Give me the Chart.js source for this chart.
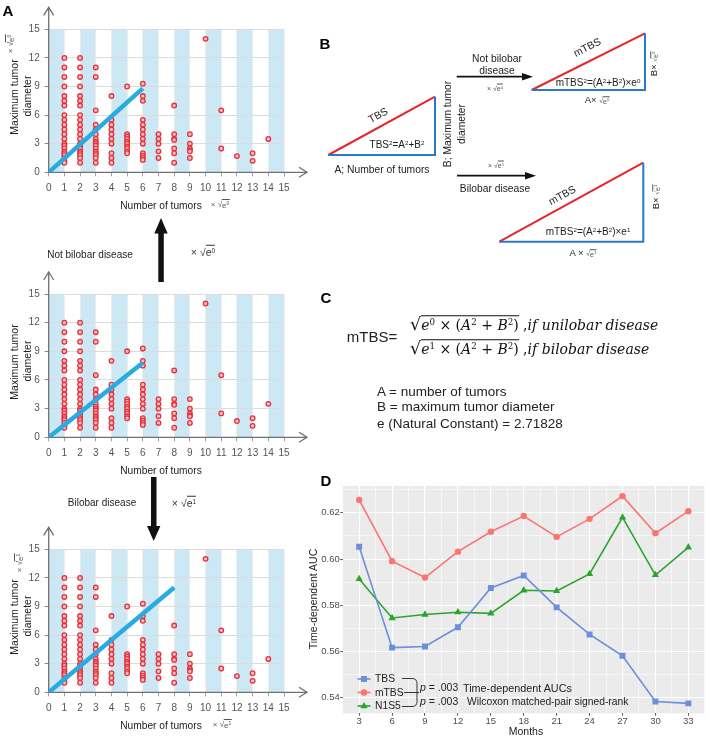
<!DOCTYPE html>
<html><head><meta charset="utf-8">
<script src="https://cdn.jsdelivr.net/npm/chart.js@4.4.1/dist/chart.umd.min.js"></script>
<style>
body{margin:0;background:#fff;font-family:"Liberation Sans",Arial,sans-serif;color:#222;}
#wrap{position:relative;width:709px;height:738px;overflow:hidden;background:#fff;}
canvas{position:absolute;}
.t{position:absolute;white-space:nowrap;line-height:1;transform:translate(-50%,-50%);}
.tl{position:absolute;white-space:nowrap;line-height:1;transform:translate(0,-50%);}
.sp{font-size:0.62em;vertical-align:0.55em;line-height:0;}
.ov{border-top:0.8px solid currentColor;padding-top:0.5px;}
.lab{font-weight:bold;font-size:15px;color:#000;}
.sm{font-size:8px;color:#555;}
.mf{font-family:"DejaVu Serif","Liberation Serif",serif;font-size:14px;color:#111;}
.mf i{font-style:italic;}
.ov2{border-top:1px solid #111;padding-top:1px;}
.rad{font-size:1.25em;}
</style></head>
<body><div id="wrap">
<canvas id="cTop" width="320" height="200" style="left:0;top:0;width:320px;height:200px"></canvas>
<canvas id="cMid" width="320" height="200" style="left:0;top:260px;width:320px;height:200px"></canvas>
<canvas id="cBot" width="320" height="215" style="left:0;top:515px;width:320px;height:215px"></canvas>
<canvas id="cD" width="409" height="268" style="left:300px;top:470px;width:409px;height:268px"></canvas>

<svg width="709" height="738" style="position:absolute;left:0;top:0;pointer-events:none">
  <!-- panel A arrows -->
  <rect x="158.3" y="232" width="5.5" height="50" fill="#111"/>
  <polygon points="161,218 154.3,233.5 167.7,233.5" fill="#111"/>
  <rect x="151" y="477" width="5.5" height="50" fill="#111"/>
  <polygon points="153.7,541 147,526 160.4,526" fill="#111"/>
  <!-- panel B triangles -->
  <g stroke-width="2" fill="none">
    <line x1="328.3" y1="155" x2="435" y2="96.7" stroke="#e8242b"/>
    <polyline points="328.3,155 435,155 435,96.7" stroke="#2a78c8"/>
    <line x1="531.7" y1="90" x2="645" y2="33.3" stroke="#e8242b"/>
    <polyline points="531.7,90 645,90 645,33.3" stroke="#2a78c8"/>
    <line x1="499.3" y1="241.7" x2="643.3" y2="162.7" stroke="#e8242b"/>
    <polyline points="499.3,241.7 643.3,241.7 643.3,162.7" stroke="#2a78c8"/>
  </g>
  <line x1="456.7" y1="76.7" x2="526" y2="76.7" stroke="#111" stroke-width="1.8"/>
  <polygon points="533,76.7 522,73 522,80.4" fill="#111"/>
  <line x1="457" y1="175.7" x2="529" y2="175.7" stroke="#111" stroke-width="1.8"/>
  <polygon points="536,175.7 525,172 525,179.4" fill="#111"/>
  <!-- panel D legend keys -->
  <g id="legKeys"></g>
  <g stroke="#222" stroke-width="0.9" fill="none">
    <path d="M402 678.5 H412 Q417 678.5 417 683.5 V692.5"/>
    <path d="M404 692.5 H419"/>
    <path d="M417 692.5 V701.5 Q417 706.5 412 706.5 H402"/>
  </g>
</svg>

<!-- Panel A texts -->
<div class="t lab" style="left:8px;top:10px">A</div>
<div class="t" style="left:14px;top:97px;font-size:10.5px;transform:translate(-50%,-50%) rotate(-90deg)">Maximum tumor</div>
<div class="t" style="left:27px;top:96px;font-size:10.5px;transform:translate(-50%,-50%) rotate(-90deg)">diameter</div>
<div class="t sm" style="left:11px;top:44px;transform:translate(-50%,-50%) rotate(-90deg)">× √<span class="ov">e<span class="sp">0</span></span></div>
<div class="t" style="left:161px;top:206px;font-size:10.2px">Number of tumors</div>
<div class="t sm" style="left:220px;top:205px">× √<span class="ov">e<span class="sp">0</span></span></div>

<div class="t" style="left:90px;top:255px;font-size:10px">Not bilobar disease</div>
<div class="t" style="left:203px;top:252px;font-size:10.5px;color:#333">× √<span class="ov">e<span class="sp">0</span></span></div>

<div class="t" style="left:14px;top:362px;font-size:10.5px;transform:translate(-50%,-50%) rotate(-90deg)">Maximum tumor</div>
<div class="t" style="left:27px;top:361px;font-size:10.5px;transform:translate(-50%,-50%) rotate(-90deg)">diameter</div>
<div class="t" style="left:161px;top:471px;font-size:10.2px">Number of tumors</div>

<div class="t" style="left:102px;top:503px;font-size:10px">Bilobar disease</div>
<div class="t" style="left:184px;top:503px;font-size:10.5px;color:#333">× √<span class="ov">e<span class="sp">1</span></span></div>

<div class="t" style="left:14px;top:617px;font-size:10.5px;transform:translate(-50%,-50%) rotate(-90deg)">Maximum tumor</div>
<div class="t" style="left:27px;top:616px;font-size:10.5px;transform:translate(-50%,-50%) rotate(-90deg)">diameter</div>
<div class="t sm" style="left:20px;top:563px;transform:translate(-50%,-50%) rotate(-90deg)">× √<span class="ov">e<span class="sp">1</span></span></div>
<div class="t" style="left:161px;top:726px;font-size:10.2px">Number of tumors</div>
<div class="t sm" style="left:222px;top:725px">× √<span class="ov">e<span class="sp">1</span></span></div>

<!-- Panel B texts -->
<div class="t lab" style="left:325px;top:43px">B</div>
<div class="t" style="left:378px;top:115px;font-size:10.5px;transform:translate(-50%,-50%) rotate(-28.6deg)">TBS</div>
<div class="t" style="left:397px;top:145px;font-size:10px">TBS<span class="sp">2</span>=A<span class="sp">2</span>+B<span class="sp">2</span></div>
<div class="t" style="left:382px;top:170px;font-size:10.3px">A; Number of tumors</div>
<div class="t" style="left:448px;top:124px;font-size:10.3px;transform:translate(-50%,-50%) rotate(-90deg)">B; Maximum tumor</div>
<div class="t" style="left:462px;top:124px;font-size:10.3px;transform:translate(-50%,-50%) rotate(-90deg)">diameter</div>
<div class="t" style="left:497px;top:59px;font-size:10.3px">Not bilobar</div>
<div class="t" style="left:497px;top:71px;font-size:10.3px">disease</div>
<div class="t sm" style="left:495px;top:88px;font-size:7px">× √<span class="ov">e<span class="sp">0</span></span></div>
<div class="t sm" style="left:496px;top:165px;font-size:7px">× √<span class="ov">e<span class="sp">1</span></span></div>
<div class="t" style="left:495px;top:189px;font-size:10.3px">Bilobar disease</div>

<div class="t" style="left:587px;top:47px;font-size:10.5px;transform:translate(-50%,-50%) rotate(-26.6deg)">mTBS</div>
<div class="t" style="left:598px;top:83px;font-size:10px">mTBS<span class="sp">2</span>=(A<span class="sp">2</span>+B<span class="sp">2</span>)×e<span class="sp">0</span></div>
<div class="t" style="left:597px;top:100px;font-size:9.5px">A× <span class="sm" style="font-size:7px">√<span class="ov">e<span class="sp">0</span></span></span></div>
<div class="t" style="left:654px;top:64px;font-size:9.5px;transform:translate(-50%,-50%) rotate(-90deg)">B× <span class="sm" style="font-size:7px">√<span class="ov">e<span class="sp">0</span></span></span></div>

<div class="t" style="left:562px;top:195px;font-size:10.5px;transform:translate(-50%,-50%) rotate(-28.7deg)">mTBS</div>
<div class="t" style="left:588px;top:232px;font-size:10px">mTBS<span class="sp">2</span>=(A<span class="sp">2</span>+B<span class="sp">2</span>)×e<span class="sp">1</span></div>
<div class="t" style="left:583px;top:253px;font-size:9.5px">A × <span class="sm" style="font-size:7px">√<span class="ov">e<span class="sp">1</span></span></span></div>
<div class="t" style="left:656px;top:197px;font-size:9.5px;transform:translate(-50%,-50%) rotate(-90deg)">B× <span class="sm" style="font-size:7px">√<span class="ov">e<span class="sp">1</span></span></span></div>

<!-- Panel C -->
<div class="t lab" style="left:326px;top:297px">C</div>
<div class="t" style="left:372px;top:336px;font-size:15px">mTBS=</div>
<div class="tl mf" style="left:410px;top:325px"><span class="rad">√</span><span class="ov2"><i>e</i><span class="sp">0</span> × (<i>A</i><span class="sp">2</span> + <i>B</i><span class="sp">2</span>)</span> ,<i>if unilobar disease</i></div>
<div class="tl mf" style="left:410px;top:349px"><span class="rad">√</span><span class="ov2"><i>e</i><span class="sp">1</span> × (<i>A</i><span class="sp">2</span> + <i>B</i><span class="sp">2</span>)</span> ,<i>if bilobar disease</i></div>
<div class="tl" style="left:377px;top:392px;font-size:13.5px">A = number of tumors</div>
<div class="tl" style="left:377px;top:407px;font-size:13.5px">B = maximum tumor diameter</div>
<div class="tl" style="left:377px;top:424px;font-size:13.5px">e (Natural Constant) = 2.71828</div>

<!-- Panel D -->
<div class="t lab" style="left:326px;top:480px">D</div>
<div class="t" style="left:313px;top:599px;font-size:10.5px;transform:translate(-50%,-50%) rotate(-90deg)">Time-dependent AUC</div>
<div class="t" style="left:526px;top:731px;font-size:10.5px">Months</div>
<div class="tl" style="left:375px;top:679px;font-size:10.3px">TBS</div>
<div class="tl" style="left:375px;top:692.5px;font-size:10.3px">mTBS</div>
<div class="tl" style="left:375px;top:706px;font-size:10.3px">N1S5</div>
<div class="tl" style="left:420px;top:687px;font-size:10.5px"><i>p</i> = .003</div>
<div class="tl" style="left:420px;top:701px;font-size:10.5px"><i>p</i> = .003</div>
<div class="tl" style="left:463px;top:688px;font-size:10.8px">Time-dependent AUCs</div>
<div class="tl" style="left:467px;top:702px;font-size:10.3px">Wilcoxon matched-pair signed-rank</div>
</div>

<script>
// ---------- Panel A data ----------
const tumorCounts = [1,2,3,4,5,6,7,8,9,10,11,12,13,14];
const diam1  = [12,11,10,9,8,7.5,7,6,5.5,5,4.5,4,3.5,3,2.8,2.5,2.2,2,1.8,1.5,1.2,1];
const diam2  = [12,11,10,9,8,7.5,7,6,5.5,5,4.5,4,3.5,3,2.8,2.5,2.2,2,1.8,1.5,1];
const diam3  = [11,10,6.5,5,4.5,4,3.5,3.2,3,2.8,2.5,2.2,2,1.8,1.5,1];
const diam4  = [8,5.5,5,4.5,4,3.5,3,2,1.5,1];
const diam5  = [9,4,3.75,3.5,3.2,3,2.7,2.5,2.2,2];
const diam6  = [9.3,8,7.5,5.5,5,4.5,4,3.5,3,2,1.75,1.5,1.3];
const diam7  = [4,3.5,3,2.2,1.5];
const diam8  = [7,4,3.5,3.4,2.5,2,1];
const diam9  = [4,3,2.5,2.3,2.2,1.5];
const diam10 = [14];
const diam11 = [6.5,2.5];
const diam12 = [1.7];
const diam13 = [2,1.2];
const diam14 = [3.5];
const diameterColumns = [diam1,diam2,diam3,diam4,diam5,diam6,diam7,diam8,diam9,diam10,diam11,diam12,diam13,diam14];

const lineTopX = [0,6],  lineTopY = [0,8.8];
const lineMidX = [0,6],  lineMidY = [0,7.8];
const lineBotX = [0,8],  lineBotY = [0,11];

const axisTicksX = [0,15];   // min/max
const axisTicksY = [0,15];
const shadedBands = [[0,1],[2,3],[4,5],[6,7],[8,9],[10,11],[12,13],[14,15]];

// ---------- Panel D data ----------
const months = [3,6,9,12,15,18,21,24,27,30,33];
const tbsAuc  = [0.6053,0.5617,0.5622,0.5705,0.5875,0.5929,0.5791,0.5674,0.5582,0.5384,0.5376];
const mtbsAuc = [0.6256,0.5991,0.5920,0.6032,0.6118,0.6186,0.6096,0.6174,0.6272,0.6112,0.6207];
const n1s5Auc = [0.5914,0.5745,0.5760,0.5770,0.5765,0.5865,0.5862,0.5936,0.6180,0.5931,0.6051];

Chart.defaults.font.family = '"Liberation Sans", Arial, sans-serif';

const scatterPoints = [];
diameterColumns.forEach((col,i)=>col.forEach(d=>scatterPoints.push({x:tumorCounts[i], y:d})));

const panelAPlugin = {
  id:'panelA',
  beforeDraw(chart){
    const {ctx, scales:{x,y}} = chart;
    ctx.save();
    ctx.fillStyle = '#cde8f5';
    const yt = y.getPixelForValue(axisTicksY[1]), yb = y.getPixelForValue(axisTicksY[0]);
    shadedBands.forEach(([a,b])=>{
      const x0 = x.getPixelForValue(a), x1 = x.getPixelForValue(b);
      ctx.fillRect(x0, yt, x1-x0, yb-yt);
    });
    ctx.restore();
  },
  beforeDatasetsDraw(chart){
    const {ctx, scales:{x,y}} = chart;
    const ox = x.getPixelForValue(0), oy = y.getPixelForValue(0);
    const ex = x.getPixelForValue(15) + 23, ey = y.getPixelForValue(15) - 22;
    ctx.save();
    ctx.strokeStyle = '#707070'; ctx.lineWidth = 1.3;
    ctx.beginPath();
    ctx.moveTo(ox, oy); ctx.lineTo(ex, oy);
    ctx.moveTo(ox, oy); ctx.lineTo(ox, ey);
    ctx.stroke();
    ctx.beginPath();
    ctx.moveTo(ex-8, oy-5); ctx.lineTo(ex, oy); ctx.lineTo(ex-8, oy+5);
    ctx.moveTo(ox-5, ey+8); ctx.lineTo(ox, ey); ctx.lineTo(ox+5, ey+8);
    ctx.stroke();
    ctx.restore();
  }
};

function makeScatter(id, lx, ly, padTop, xHeight){
  new Chart(document.getElementById(id), {
    type:'scatter',
    data:{datasets:[
      {type:'line', data: lx.map((v,i)=>({x:v,y:ly[i]})), borderColor:'#29abe2', borderWidth:4.5, pointRadius:0, order:0, borderCapStyle:'butt'},
      {data: scatterPoints, pointRadius:2.3, pointBorderWidth:1.3, pointBorderColor:'#e6303a', pointBackgroundColor:'#f8c2c5', order:1}
    ]},
    options:{
      responsive:false, animation:false,
      layout:{padding:{left:0,right:36,top:padTop,bottom:0}},
      plugins:{legend:{display:false}, tooltip:{enabled:false}},
      scales:{
        x:{type:'linear', min:axisTicksX[0], max:axisTicksX[1],
           afterFit(s){ s.height = xHeight; },
           ticks:{stepSize:1, autoSkip:false, maxRotation:0, color:'#555', font:{size:10}, padding:6},
           grid:{color:'#ececec', tickColor:'#888', tickLength:4, lineWidth:0.8},
           border:{display:false}},
        y:{type:'linear', min:axisTicksY[0], max:axisTicksY[1],
           afterFit(s){ s.width = 48.7; },
           ticks:{stepSize:3, color:'#555', font:{size:10}, padding:5},
           grid:{color:'#dcdcdc', tickColor:'#888', tickLength:4, lineWidth:1},
           border:{display:false}}
      }
    },
    plugins:[panelAPlugin]
  });
}
makeScatter('cTop', lineTopX, lineTopY, 29.3, 27.7);
makeScatter('cMid', lineMidX, lineMidY, 34, 22.7);
makeScatter('cBot', lineBotX, lineBotY, 34.3, 37.7);

// ---------- Panel D chart ----------
const C_TBS = '#6b8fd9', C_MTBS = '#f8766d', C_N1S5 = '#2ca52c';
const bgPlugin = {
  id:'bg',
  beforeDraw(chart){
    const {ctx, chartArea:a} = chart;
    ctx.save(); ctx.fillStyle = '#ebebeb';
    ctx.fillRect(a.left, a.top, a.right-a.left, a.bottom-a.top);
    ctx.restore();
  }
};
const isMajY = v => Math.round(v*100) % 2 === 0;
const isMajX = v => Math.abs(Math.round(v*10) % 30) === 0;
new Chart(document.getElementById('cD'), {
  type:'line',
  data:{datasets:[
    {label:'TBS', data: months.map((m,i)=>({x:m,y:tbsAuc[i]})), borderColor:C_TBS, backgroundColor:C_TBS, pointStyle:'rect', pointRadius:4.2, pointBorderWidth:0, borderWidth:1.6},
    {label:'mTBS', data: months.map((m,i)=>({x:m,y:mtbsAuc[i]})), borderColor:C_MTBS, backgroundColor:C_MTBS, pointStyle:'circle', pointRadius:3.2, pointBorderWidth:0, borderWidth:1.6},
    {label:'N1S5', data: months.map((m,i)=>({x:m,y:n1s5Auc[i]})), borderColor:C_N1S5, backgroundColor:C_N1S5, pointStyle:'triangle', pointRadius:4.2, pointBorderWidth:0, borderWidth:1.6}
  ]},
  options:{
    responsive:false, animation:false,
    layout:{padding:{left:0,right:0.7,top:16,bottom:0}},
    plugins:{legend:{display:false}, tooltip:{enabled:false}},
    scales:{
      x:{type:'linear', min:1.5, max:34.5,
         afterFit(s){ s.height = 24.7; },
         ticks:{stepSize:1.5, autoSkip:false, maxRotation:0, color:'#4d4d4d', font:{size:9.5}, padding:0,
                callback:v => isMajX(v) ? String(Math.round(v)) : ''},
         grid:{color:'#fff', lineWidth:c => (c.tick && isMajX(c.tick.value)) ? 1.1 : 0.55,
               tickColor:c => (c.tick && isMajX(c.tick.value)) ? '#333' : 'rgba(0,0,0,0)', tickLength:2.5, tickWidth:0.8},
         border:{display:false}},
      y:{type:'linear', min:0.5333, max:0.6316,
         afterFit(s){ s.width = 42.7; },
         ticks:{stepSize:0.01, includeBounds:false, color:'#4d4d4d', font:{size:9.5}, padding:0.5,
                callback:v => isMajY(v) ? v.toFixed(2) : ''},
         grid:{color:'#fff', lineWidth:c => (c.tick && isMajY(c.tick.value)) ? 1.1 : 0.55,
               tickColor:c => (c.tick && isMajY(c.tick.value)) ? '#333' : 'rgba(0,0,0,0)', tickLength:2.5, tickWidth:0.8},
         border:{display:false}}
    }
  },
  plugins:[bgPlugin]
});

// legend keys (svg)
const legendSeries = [[C_TBS,'rect',679],[C_MTBS,'circle',692.5],[C_N1S5,'tri',706]];
const g = document.getElementById('legKeys');
const NS = 'http://www.w3.org/2000/svg';
legendSeries.forEach(([c,s,yy])=>{
  const l = document.createElementNS(NS,'line');
  l.setAttribute('x1',357.5); l.setAttribute('x2',370.5); l.setAttribute('y1',yy); l.setAttribute('y2',yy);
  l.setAttribute('stroke',c); l.setAttribute('stroke-width',1.6); g.appendChild(l);
  let m;
  if (s==='rect'){ m=document.createElementNS(NS,'rect'); m.setAttribute('x',361); m.setAttribute('y',yy-3); m.setAttribute('width',6); m.setAttribute('height',6); }
  else if (s==='circle'){ m=document.createElementNS(NS,'circle'); m.setAttribute('cx',364); m.setAttribute('cy',yy); m.setAttribute('r',3.2); }
  else { m=document.createElementNS(NS,'polygon'); m.setAttribute('points',`364,${yy-4} 360.4,${yy+2.3} 367.6,${yy+2.3}`); }
  m.setAttribute('fill',c); g.appendChild(m);
});
</script>
</body></html>
